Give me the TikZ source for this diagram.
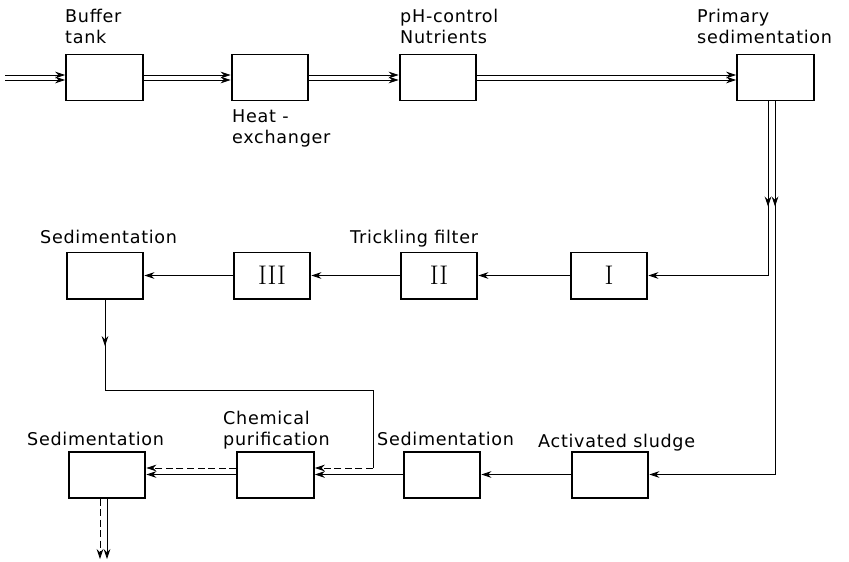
\documentclass[tikz,border=0pt]{standalone}
\usepackage{fontspec}
\newfontfamily\letterfont{DejaVu Sans}[LetterSpace=4]
\usepackage{tikz}
\usetikzlibrary{arrows.meta, positioning, calc, decorations.markings}
\tikzset{
  unit/.style={draw, line width=1.7pt, minimum width=2.3cm, minimum height=1.38cm,
               inner sep=0pt, font=\fontsize{23}{23}\selectfont},
  lbl/.style={font={\letterfont\fontsize{15}{17.9}\selectfont}, inner sep=0pt, align=left},
  flow/.style={line width=0.7pt, -{Stealth[length=3mm, width=2mm]}},
  dflow/.style={flow, dash pattern=on 6pt off 3pt},
  midflow/.style={line width=0.7pt, postaction={decorate},
                  decoration={markings, mark=at position #1 with {\arrow{Stealth[length=3mm, width=2mm]}}}}
}
\begin{document}
\begin{tikzpicture}[x=0.03cm, y=-0.03cm]
  \useasboundingbox (0,0) rectangle (849,561);
  % Pretreatment line at top
  \node[unit] (buf)  at (104.5,77.5) {};
  \node[unit] (heat) at (270,77.5) {};
  \node[unit] (ph)   at (438,77.5) {};
  \node[unit] (prim) at (775.5,77.5) {};
  \node[lbl, anchor=base west] (bufL)  at (65,43)  {Buffer\\tank};
  \node[lbl, anchor=base west] (heatL) at (232,143) {Heat -\\exchanger};
  \node[lbl, anchor=base west] (phL)   at (400,43) {pH-control\\Nutrients};
  \node[lbl, anchor=base west] (primL) at (697,43) {Primary\\sedimentation};
  \coordinate (inlet) at (5,77.5);
  \foreach \dy in {-2.5,2.5} {
    \draw[flow] ($(inlet)+(0,\dy)$)    -- ($(buf.west)+(0,\dy)$);
    \draw[flow] ($(buf.east)+(0,\dy)$)  -- ($(heat.west)+(0,\dy)$);
    \draw[flow] ($(heat.east)+(0,\dy)$) -- ($(ph.west)+(0,\dy)$);
    \draw[flow] ($(ph.east)+(0,\dy)$)   -- ($(prim.west)+(0,\dy)$);
  }
  % Trickling filter branch
  \node[unit] (sedA)  at (105,275.5) {};
  \node[unit] (filt3) at (272,275.5) {III};
  \node[unit] (filt2) at (439,275.5) {II};
  \node[unit] (filt1) at (609,275.5) {I};
  \node[lbl, anchor=base west] (sedAL)  at (40,243)  {Sedimentation};
  \node[lbl, anchor=base west] (filtL)  at (350,243) {Trickling filter};
  \draw[midflow=3.15cm, flow] ($(prim.south)+(-7.5,0)$) |- (filt1.east);
  \draw[flow] (filt1.west) -- (filt2.east);
  \draw[flow] (filt2.west) -- (filt3.east);
  \draw[flow] (filt3.west) -- (sedA.east);
  % Activated sludge branch
  \node[unit] (sedB) at (107,474.5) {};
  \node[unit] (chem) at (275.5,474.5) {};
  \node[unit] (sedC) at (442,474.5) {};
  \node[unit] (act)  at (610,474.5) {};
  \node[lbl, anchor=base west] (sedBL) at (27,445)  {Sedimentation};
  \node[lbl, anchor=base west] (chemL) at (223,445) {Chemical\\purification};
  \node[lbl, anchor=base west] (sedCL) at (377,445) {Sedimentation};
  \node[lbl, anchor=base west] (actL)  at (538,447) {Activated sludge};
  \draw[midflow=3.15cm, flow] ($(prim.south)+(-0.5,0)$) |- (act.east);
  \draw[flow] (act.west) -- (sedC.east);
  \draw[flow] (sedC.west) -- (chem.east);
  \draw[flow] (chem.west) -- (sedB.east);
  \draw[dflow] ($(chem.west)+(0,-6.5)$) -- ($(sedB.east)+(0,-6.5)$);
  % Filter effluent to chemical purification
  \coordinate (bend) at (373,390);
  \coordinate (junc) at (373,468);
  \draw[midflow=1.4cm] (sedA.south) |- (bend) -- (junc);
  \draw[dflow] (junc) -- (chem.east |- junc);
  % Outlet
  \coordinate (outlet) at (107,559);
  \draw[flow] (sedB.south) -- (outlet);
  \draw[dflow] ($(sedB.south)+(-7,0)$) -- ($(outlet)+(-7,0)$);
\end{tikzpicture}
\end{document}
